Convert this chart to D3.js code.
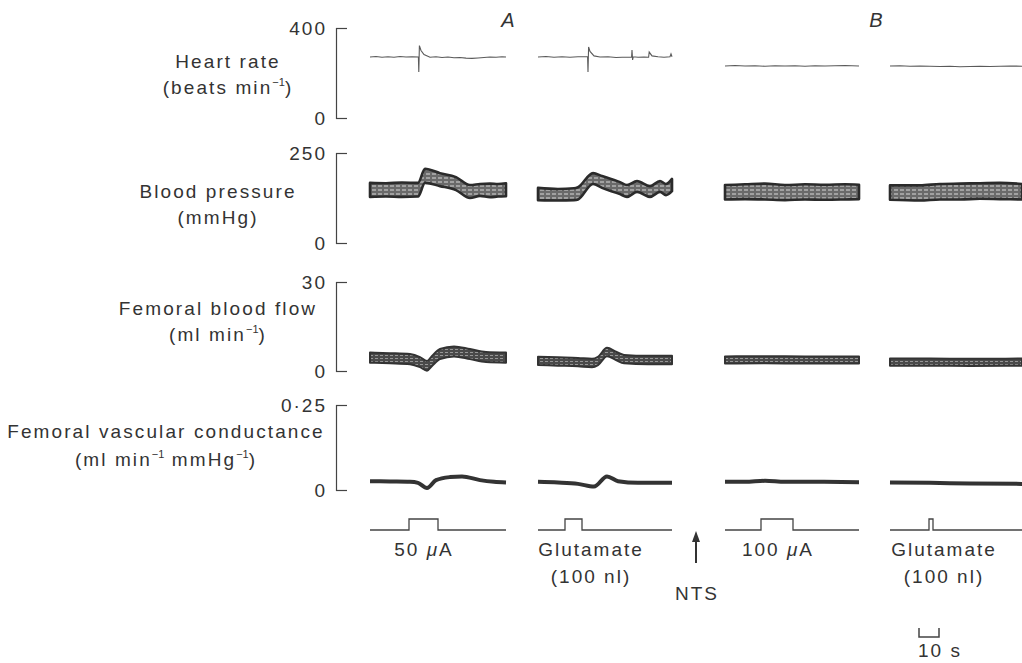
<!DOCTYPE html>
<html>
<head>
<meta charset="utf-8">
<script src="https://cdn.jsdelivr.net/npm/d3@7"></script>
<style>
  html, body { margin: 0; padding: 0; background: #fff; }
  svg { display: block; }
  text { font-family: "Liberation Sans", Arial, Helvetica, sans-serif; fill: #333; }
</style>
</head>
<body>
<svg id="chart" width="1022" height="663"></svg>
<script>
// ---------------- DATA ----------------
// recording segments (A: before, B: after NTS lesion); offsets in seconds on a common time line
const segmentNames  = ["A1", "A2", "B1", "B2"];
const segmentStart  = [0, 84, 177.5, 260];
const segmentLength = [68, 67, 67, 66];

// stimulus on/off times (s, local to each segment)
const stimOnOff = [[19.5, 34], [13.5, 22], [18, 34], [19.5, 21.5]];
const stimLabels = [["50 μA"], ["Glutamate", "(100 nl)"], ["100 μA"], ["Glutamate", "(100 nl)"]];

// Heart rate (beats/min): [t, value]
const hrA1 = [[0,271],[3,273],[6,270],[9,272],[12,270],[15,273],[18,271],[21,272],[24.2,271],[24.4,204],[24.7,322],[25.5,300],[27,282],[30,270],[33,272],[36,269],[39,271],[42,268],[45,269],[48,266],[51,265],[54,267],[57,269],[60,271],[63,270],[66,272],[68,271]];
const hrA2 = [[0,271],[4,273],[8,270],[12,272],[16,270],[20,272],[24.8,272],[25,204],[25.3,316],[26,296],[28,276],[31,271],[35,272],[39,269],[42,270],[46.8,271],[47,302],[47.3,258],[47.6,272],[50,270],[53,271],[55.3,270],[55.6,293],[57,276],[60,272],[63,270],[66,272],[66.5,285],[67,272]];
const hrB1 = [[0,231],[5,233],[10,231],[15,232],[20,230],[25,232],[30,231],[35,232],[40,230],[45,232],[50,231],[55,232],[60,233],[67,231]];
const hrB2 = [[0,231],[5,232],[10,230],[15,231],[20,230],[25,229],[30,230],[35,228],[40,229],[45,230],[50,229],[55,230],[60,231],[66,230]];

// Blood pressure (mmHg): [t, systolic, diastolic]
const bpA1 = [[0,167,128],[8,166,129],[16,168,128],[24,167,129],[27.5,206,167],[35,194,158],[43,183,147],[50,161,125],[55,164,131],[60,165,127],[64,164,129],[68,166,130]];
const bpA2 = [[0,153,119],[10,150,118],[18,152,119],[20,155,121],[27.5,194,164],[32,186,153],[41,169,136],[44.5,161,128],[49.5,172,142],[56,158,128],[61,172,142],[64,164,133],[67,178,144]];
const bpB1 = [[0,161,121],[10,163,122],[20,165,121],[30,161,119],[40,163,121],[50,162,120],[60,163,121],[67,162,122]];
const bpB2 = [[0,160,120],[15,160,118],[25,164,121],[35,165,121],[45,166,123],[55,167,122],[66,164,121]];

// Femoral blood flow (ml/min): [t, upper, lower]
const flowA1 = [[0,6.2,2.8],[10,6.0,2.6],[20,5.7,2.3],[25,4.7,1.3],[28.5,3.4,0.1],[31,5.1,1.7],[35,7.4,4.0],[42,8.3,4.9],[50,7.4,4.0],[58,6.4,3.0],[68,6.2,2.8]];
const flowA2 = [[0,4.8,2.0],[10,4.6,1.8],[20,4.4,1.6],[27,4.1,1.3],[30,4.8,2.0],[34.5,7.8,5.0],[39,6.5,3.7],[43,5.4,2.6],[55,5.1,2.3],[67,5.1,2.3]];
const flowB1 = [[0,4.9,2.5],[20,5.0,2.6],[40,4.9,2.5],[67,4.9,2.5]];
const flowB2 = [[0,4.2,1.8],[20,4.2,1.8],[40,4.1,1.7],[66,4.2,1.8]];

// Femoral vascular conductance (ml/min/mmHg): [t, value]
const condA1 = [[0,0.026],[10,0.025],[20,0.024],[24,0.021],[28.5,0.006],[33,0.029],[40,0.038],[46,0.040],[55,0.029],[62,0.024],[68,0.022]];
const condA2 = [[0,0.024],[10,0.022],[20,0.018],[28,0.010],[34.5,0.040],[40,0.026],[50,0.021],[67,0.021]];
const condB1 = [[0,0.024],[10,0.024],[20,0.027],[30,0.024],[45,0.024],[67,0.023]];
const condB2 = [[0,0.022],[20,0.021],[40,0.019],[66,0.018]];

// axis ticks
const hrTicks   = [0, 400];
const bpTicks   = [0, 250];
const flowTicks = [0, 30];
const condTicks = [0, 0.25];

// ---------------- LAYOUT ----------------
const svg = d3.select("#chart");
const x = d3.scaleLinear().domain([0, 326]).range([370, 1022]);
const axisX = 336;

const yHR   = d3.scaleLinear().domain([0, 400]).range([118, 28]);
const yBP   = d3.scaleLinear().domain([0, 250]).range([243, 153]);
const yFlow = d3.scaleLinear().domain([0, 30]).range([371, 282]);
const yCond = d3.scaleLinear().domain([0, 0.25]).range([490, 405]);
const yStim = d3.scaleLinear().domain([0, 1]).range([530, 519]);

// patterns for band traces
const defs = svg.append("defs");
const p1 = defs.append("pattern").attr("id", "hatch").attr("patternUnits", "userSpaceOnUse")
  .attr("width", 6).attr("height", 4);
p1.append("rect").attr("width", 6).attr("height", 4).attr("fill", "#6a6a6a");
p1.append("line").attr("x1", 0).attr("x2", 4).attr("y1", 2).attr("y2", 2)
  .attr("stroke", "#d8d8d8").attr("stroke-width", 1);
const p2 = defs.append("pattern").attr("id", "hatch2").attr("patternUnits", "userSpaceOnUse")
  .attr("width", 5).attr("height", 3);
p2.append("rect").attr("width", 5).attr("height", 3).attr("fill", "#4a4a4a");
p2.append("line").attr("x1", 0).attr("x2", 3).attr("y1", 1.5).attr("y2", 1.5)
  .attr("stroke", "#aaa").attr("stroke-width", 0.8);

// axes (brackets)
const fmt = d => String(d).replace(".", "·");
function drawAxis(scale, ticks) {
  const ax = d3.axisLeft(scale).tickValues(ticks).tickSize(-11).tickSizeOuter(-11)
    .tickPadding(9).tickFormat(fmt);
  const g = svg.append("g").attr("transform", `translate(${axisX},0)`).call(ax);
  g.selectAll("path, line").attr("stroke", "#444").attr("stroke-width", 1.2);
  g.selectAll("text").attr("font-size", 19).attr("letter-spacing", 2)
    .attr("font-family", '"Liberation Sans", Arial, sans-serif').attr("fill", "#333");
}
drawAxis(yHR, hrTicks);
drawAxis(yBP, bpTicks);
drawAxis(yFlow, flowTicks);
drawAxis(yCond, condTicks);

// y labels
function label(lines, cx, ys) {
  lines.forEach((ln, i) => {
    const t = svg.append("text").attr("x", cx).attr("y", ys[i]).attr("text-anchor", "middle")
      .attr("font-size", 19).attr("letter-spacing", 2.1);
    let raised = false;
    ln.forEach(part => {
      if (typeof part === "string") {
        const ts = t.append("tspan").text(part);
        if (raised) { ts.attr("dy", 8); raised = false; }
      } else {
        t.append("tspan").attr("font-size", 11).attr("dy", -8).attr("letter-spacing", 0).text(part.s);
        raised = true;
      }
    });
  });
}
label([["Heart  rate"], ["(beats min", {s: "−1"}, ")"]], 228, [68, 94]);
label([["Blood pressure"], ["(mmHg)"]], 218, [198, 224]);
label([["Femoral blood flow"], ["(ml min", {s: "−1"}, ")"]], 218, [315, 341]);
label([["Femoral vascular conductance"], ["(ml min", {s: "−1"}, " mmHg", {s: "−1"}, ")"]], 166, [438, 466]);

// panel letters
svg.append("text").attr("x", 508).attr("y", 27).attr("text-anchor", "middle")
  .attr("font-size", 20).attr("font-style", "italic").text("A");
svg.append("text").attr("x", 876).attr("y", 27).attr("text-anchor", "middle")
  .attr("font-size", 20).attr("font-style", "italic").text("B");

// traces
const hrData   = [hrA1, hrA2, hrB1, hrB2];
const bpData   = [bpA1, bpA2, bpB1, bpB2];
const flowData = [flowA1, flowA2, flowB1, flowB2];
const condData = [condA1, condA2, condB1, condB2];
const smooth = d3.curveMonotoneX;

segmentNames.forEach((name, i) => {
  const gx = t => x(segmentStart[i] + t);

  // heart rate
  svg.append("path").datum(hrData[i])
    .attr("d", d3.line().x(d => gx(d[0])).y(d => yHR(d[1])))
    .attr("fill", "none").attr("stroke", "#5a5a5a").attr("stroke-width", 1.1);

  // blood pressure band
  svg.append("path").datum(bpData[i])
    .attr("d", d3.area().curve(smooth).x(d => gx(d[0])).y0(d => yBP(d[2])).y1(d => yBP(d[1])))
    .attr("fill", "url(#hatch)").attr("stroke", "#2b2b2b").attr("stroke-width", 2.6)
    .attr("stroke-linejoin", "round");

  // flow band
  svg.append("path").datum(flowData[i])
    .attr("d", d3.area().curve(smooth).x(d => gx(d[0])).y0(d => yFlow(d[2])).y1(d => yFlow(d[1])))
    .attr("fill", "url(#hatch2)").attr("stroke", "#333").attr("stroke-width", 2)
    .attr("stroke-linejoin", "round");

  // conductance
  svg.append("path").datum(condData[i])
    .attr("d", d3.line().curve(smooth).x(d => gx(d[0])).y(d => yCond(d[1])))
    .attr("fill", "none").attr("stroke", "#333").attr("stroke-width", 4)
    .attr("stroke-linejoin", "round");

  // stimulus marker
  const [on, off] = stimOnOff[i];
  const stim = [[0,0],[on,0],[on,1],[off,1],[off,0],[segmentLength[i],0]];
  svg.append("path").datum(stim)
    .attr("d", d3.line().x(d => gx(d[0])).y(d => yStim(d[1])))
    .attr("fill", "none").attr("stroke", "#444").attr("stroke-width", 1.3);
});

// stimulus labels
const stimLabelCx = [424, 591, 778, 944];
stimLabels.forEach((lines, i) => {
  lines.forEach((ln, j) => {
    const t = svg.append("text").attr("x", stimLabelCx[i]).attr("y", 556 + j * 27)
      .attr("text-anchor", "middle").attr("font-size", 19).attr("letter-spacing", 2);
    const mu = ln.indexOf("μ");
    if (mu >= 0) {
      t.append("tspan").text(ln.slice(0, mu));
      t.append("tspan").attr("font-style", "italic").text("μ");
      t.append("tspan").text(ln.slice(mu + 1));
    } else {
      t.text(ln);
    }
  });
});

// NTS arrow
svg.append("line").attr("x1", 696).attr("x2", 696).attr("y1", 563).attr("y2", 538)
  .attr("stroke", "#333").attr("stroke-width", 2);
svg.append("path").attr("d", "M696,531 L692,542 L700,542 Z").attr("fill", "#333");
svg.append("text").attr("x", 697).attr("y", 600).attr("text-anchor", "middle")
  .attr("font-size", 19).attr("letter-spacing", 2).text("NTS");

// time scale bar: 10 s
const barStart = 274.5;
svg.append("path")
  .attr("d", `M${x(barStart)},628 V637 H${x(barStart + 10)} V628`)
  .attr("fill", "none").attr("stroke", "#444").attr("stroke-width", 1.5);
svg.append("text").attr("x", x(barStart + 10) + 1).attr("y", 657).attr("text-anchor", "middle")
  .attr("font-size", 19).attr("letter-spacing", 2).text("10 s");
</script>
</body>
</html>
